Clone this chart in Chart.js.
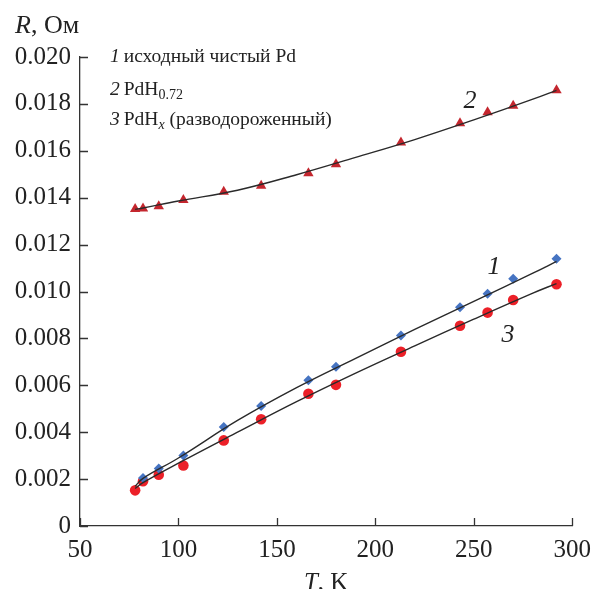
<!DOCTYPE html>
<html>
<head>
<meta charset="utf-8">
<script src="https://cdn.jsdelivr.net/npm/chart.js@4/dist/chart.umd.min.js"></script>
<style>
html,body{margin:0;padding:0;background:#fff;}
#wrap{width:600px;height:589px;position:relative;}
</style>
</head>
<body>
<div id="wrap"><canvas id="c" width="600" height="589"></canvas></div>
<script>
// Temperatures (K)
const temps = [78, 82, 90, 102.5, 123, 142, 166, 180, 213, 243, 257, 270, 292];
const temps1 = [82, 90, 102.5, 123, 142, 166, 180, 213, 243, 257, 270, 292];
// Measured R (Ohm)
const r1 = [0.00205, 0.00245, 0.00301, 0.00422, 0.00512, 0.00622, 0.00679, 0.00812, 0.00933, 0.0099, 0.01054, 0.0114];
const r2 = [0.01352, 0.01354, 0.01364, 0.0139, 0.01425, 0.01451, 0.01504, 0.01543, 0.01635, 0.01718, 0.01764, 0.01792, 0.01858];
const r3 = [0.00152, 0.00191, 0.00219, 0.00258, 0.00365, 0.00455, 0.00564, 0.00602, 0.00743, 0.00854, 0.0091, 0.00964, 0.01031];
// Fitted curves
const fitT = [78, 82, 100, 130, 160, 190, 220, 250, 280, 292];
const fit1 = [0.0017, 0.00203, 0.0029, 0.0045, 0.0059, 0.00715, 0.00838, 0.00958, 0.01078, 0.01128];
const fit2 = [0.0135, 0.01356, 0.01386, 0.01432, 0.01498, 0.01572, 0.01648, 0.01732, 0.0182, 0.01858];
const fit3 = [0.0016, 0.00185, 0.00268, 0.004, 0.0053, 0.00652, 0.00768, 0.00882, 0.00993, 0.01034];
// Axis ticks
const xTicks = [50, 100, 150, 200, 250, 300];
const yTicks = [0, 0.002, 0.004, 0.006, 0.008, 0.010, 0.012, 0.014, 0.016, 0.018, 0.020];
const legendItems = [
  {n: '1', t: 'исходный чистый Pd'},
  {n: '2', t: 'PdH', sub: '0.72'},
  {n: '3', t: 'PdH', subI: 'x', after: ' (разводороженный)'}
];

const pts = (xs, ys) => xs.map((x, i) => ({x: x, y: ys[i]}));
const SERIF = '"Liberation Serif", "DejaVu Serif", serif';

const innerTicks = {
  id: 'innerTicks',
  afterDraw(chart) {
    const ctx = chart.ctx;
    const xs = chart.scales.x, ys = chart.scales.y;
    const ca = chart.chartArea;
    ctx.save();
    ctx.strokeStyle = '#333';
    ctx.lineWidth = 1.3;
    ctx.beginPath();
    yTicks.forEach(v => { const p = Math.round(ys.getPixelForValue(v)) + 0.5; ctx.moveTo(ca.left, p); ctx.lineTo(ca.left + 8, p); });
    xTicks.forEach(v => { const p = Math.round(xs.getPixelForValue(v)) + 0.5; ctx.moveTo(p, ca.bottom); ctx.lineTo(p, ca.bottom - 8); });
    ctx.stroke();
    // axis titles
    ctx.fillStyle = '#222';
    ctx.textBaseline = 'alphabetic';
    ctx.textAlign = 'left';
    ctx.font = 'italic 26px ' + SERIF;
    ctx.fillText('R', 15, 33);
    let w = ctx.measureText('R').width;
    ctx.font = '26px ' + SERIF;
    ctx.fillText(', Ом', 15 + w, 33);
    ctx.font = 'italic 25px ' + SERIF;
    const tW = ctx.measureText('T').width;
    ctx.font = '25px ' + SERIF;
    const kW = ctx.measureText(', K').width;
    const cx = (ca.left + ca.right) / 2;
    let sx = cx - (tW + kW) / 2;
    ctx.font = 'italic 25px ' + SERIF;
    ctx.fillText('T', sx, 590);
    ctx.font = '25px ' + SERIF;
    ctx.fillText(', K', sx + tW, 590);
    // legend text
    const lx = 110, ly = [62, 95, 125];
    legendItems.forEach((it, i) => {
      let x = lx;
      ctx.font = 'italic 19.5px ' + SERIF;
      ctx.fillText(it.n, x, ly[i]);
      x += ctx.measureText(it.n).width + 4;
      ctx.font = '19.5px ' + SERIF;
      ctx.fillText(it.t, x, ly[i]);
      x += ctx.measureText(it.t).width;
      if (it.sub) {
        ctx.font = '14px ' + SERIF;
        ctx.fillText(it.sub, x, ly[i] + 4);
        x += ctx.measureText(it.sub).width;
      }
      if (it.subI) {
        ctx.font = 'italic 14px ' + SERIF;
        ctx.fillText(it.subI, x, ly[i] + 4);
        x += ctx.measureText(it.subI).width;
      }
      if (it.after) {
        ctx.font = '19.5px ' + SERIF;
        ctx.fillText(it.after, x, ly[i]);
      }
    });
    // curve labels
    ctx.font = 'italic 26px ' + SERIF;
    ctx.textAlign = 'center';
    ctx.textBaseline = 'middle';
    ctx.fillText('2', 470, 101);
    ctx.fillText('1', 494, 267);
    ctx.fillText('3', 508, 335);
    ctx.restore();
  }
};

const lineDs = (d) => ({data: d, showLine: true, pointRadius: 0, borderColor: '#2a2a2a', borderWidth: 1.4, tension: 0.4, order: 0});

new Chart(document.getElementById('c'), {
  type: 'scatter',
  data: {
    datasets: [
      lineDs(pts(fitT, fit1)),
      lineDs(pts(fitT, fit2)),
      lineDs(pts(fitT, fit3)),
      {data: pts(temps1, r1), pointStyle: 'rectRot', pointRadius: 5, backgroundColor: '#4674c2', borderColor: '#4674c2', borderWidth: 0, order: 1},
      {data: pts(temps, r2), pointStyle: 'triangle', pointRadius: 6, backgroundColor: '#c4262e', borderColor: '#c4262e', borderWidth: 0, order: 1},
      {data: pts(temps, r3), pointStyle: 'circle', pointRadius: 5.3, backgroundColor: '#ec2028', borderColor: '#ec2028', borderWidth: 0, order: 1}
    ]
  },
  options: {
    responsive: false,
    animation: false,
    events: [],
    layout: {padding: {top: 57, right: 16, left: 0, bottom: 0}},
    plugins: {legend: {display: false}, tooltip: {enabled: false}},
    scales: {
      x: {
        type: 'linear', min: 50, max: 300,
        afterBuildTicks: s => { s.ticks = xTicks.map(v => ({value: v})); },
        afterFit: s => { s.height = 63; },
        grid: {display: true, drawOnChartArea: false, drawTicks: false},
        border: {display: true, color: '#333', width: 1.3},
        ticks: {padding: 9, color: '#222', font: {family: SERIF, size: 25}, maxRotation: 0, autoSkip: false}
      },
      y: {
        type: 'linear', min: 0, max: 0.020,
        afterBuildTicks: s => { s.ticks = yTicks.map(v => ({value: v})); },
        afterFit: s => { s.width = 80; },
        grid: {display: true, drawOnChartArea: false, drawTicks: false},
        border: {display: true, color: '#333', width: 1.3},
        ticks: {padding: 9, color: '#222', font: {family: SERIF, size: 25}, autoSkip: false,
          callback: v => v === 0 ? '0' : v.toFixed(3)}
      }
    }
  },
  plugins: [innerTicks]
});
</script>
</body>
</html>
